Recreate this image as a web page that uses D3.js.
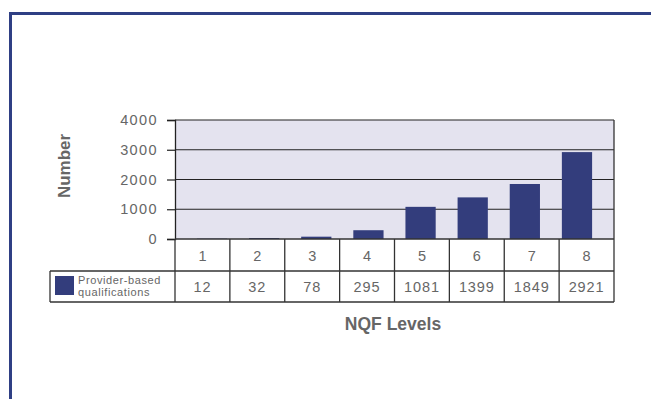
<!DOCTYPE html>
<meta charset="utf-8">
<head>
<style>
body { margin: 0; background: #fff; }
text { font-family: "Liberation Sans", Arial, sans-serif; fill: #666; }
</style>
</head>
<body>
<script src="https://cdn.jsdelivr.net/npm/d3@7"></script>
<div id="chart"></div>
<script>
// data
const levels = ["1", "2", "3", "4", "5", "6", "7", "8"];
const qualifications = [12, 32, 78, 295, 1081, 1399, 1849, 2921];
const yTicks = [0, 1000, 2000, 3000, 4000];
const seriesName = ["Provider-based", "qualifications"];

const width = 651, height = 399;
const svg = d3.select("#chart").append("svg")
    .attr("width", width)
    .attr("height", height);

// outer frame (runs off the right and bottom)
svg.append("path")
    .attr("d", "M10.5,400 L10.5,13.5 L652,13.5")
    .attr("fill", "none")
    .attr("stroke", "#2f3f84")
    .attr("stroke-width", 3);

const plotL = 175, plotR = 614, plotT = 120, plotB = 239;

const x = d3.scaleBand().domain(levels).range([plotL, plotR]).padding(0.42);
const cols = d3.scaleBand().domain(levels).range([plotL, plotR]);
const y = d3.scaleLinear().domain([0, 4000]).range([plotB, plotT]);

svg.append("rect")
    .attr("x", plotL).attr("y", plotT)
    .attr("width", plotR - plotL).attr("height", plotB - plotT)
    .attr("fill", "#e4e3ef");

// gridlines
svg.selectAll(".grid").data(yTicks.slice(1))
  .enter().append("line")
    .attr("x1", plotL).attr("x2", plotR)
    .attr("y1", d => y(d)).attr("y2", d => y(d))
    .attr("stroke", "#222").attr("stroke-width", 1.2);

svg.append("line")
    .attr("x1", plotR).attr("x2", plotR)
    .attr("y1", plotT).attr("y2", plotB)
    .attr("stroke", "#333").attr("stroke-width", 1.3);

// bars
svg.selectAll(".bar").data(qualifications)
  .enter().append("rect")
    .attr("x", (d, i) => x(levels[i]))
    .attr("y", d => y(d))
    .attr("width", x.bandwidth())
    .attr("height", d => y(0) - y(d))
    .attr("fill", "#333d7c");

// y axis
const yAxis = svg.append("g")
    .attr("transform", `translate(${plotL},0)`)
    .call(d3.axisLeft(y).tickValues(yTicks).tickFormat(d3.format("d"))
      .tickSize(8).tickPadding(9));
yAxis.select(".domain").attr("stroke", "#222").attr("stroke-width", 1.3);
yAxis.selectAll(".tick line").attr("stroke", "#222").attr("stroke-width", 1.2);
yAxis.selectAll(".tick text")
    .style("font-size", "14.5px")
    .style("letter-spacing", "1.4px")
    .style("font-family", "'Liberation Sans', Arial, sans-serif")
    .attr("fill", "#666");

svg.append("text")
    .attr("transform", "translate(70,166) rotate(-90)")
    .attr("text-anchor", "middle")
    .style("font-size", "17px")
    .style("font-weight", "bold")
    .text("Number");

// data table
const row1 = plotB, row2 = 271, row3 = 302, tableLeft = 50;
const tbl = svg.append("g").attr("fill", "none").attr("stroke", "#333").attr("stroke-width", 1.3);
tbl.append("line").attr("x1", plotL).attr("x2", plotR).attr("y1", row1).attr("y2", row1);
tbl.append("line").attr("x1", tableLeft).attr("x2", plotR).attr("y1", row2).attr("y2", row2);
tbl.append("line").attr("x1", tableLeft).attr("x2", plotR).attr("y1", row3).attr("y2", row3);
tbl.append("line").attr("x1", tableLeft).attr("x2", tableLeft).attr("y1", row2).attr("y2", row3);
tbl.selectAll(".vl").data(levels.concat(["end"]))
  .enter().append("line")
    .attr("x1", d => d === "end" ? plotR : cols(d))
    .attr("x2", d => d === "end" ? plotR : cols(d))
    .attr("y1", row1).attr("y2", row3);

svg.selectAll(".cat").data(levels)
  .enter().append("text")
    .attr("x", d => cols(d) + cols.bandwidth() / 2)
    .attr("y", (row1 + row2) / 2 + 5.5)
    .attr("text-anchor", "middle")
    .style("font-size", "14.5px")
    .text(d => d);

svg.selectAll(".val").data(qualifications)
  .enter().append("text")
    .attr("x", (d, i) => cols(levels[i]) + cols.bandwidth() / 2)
    .attr("y", (row2 + row3) / 2 + 5.5)
    .attr("text-anchor", "middle")
    .style("font-size", "14.5px")
    .style("letter-spacing", "0.9px")
    .text(d => d);

// legend cell
svg.append("rect")
    .attr("x", 55).attr("y", 276)
    .attr("width", 19).attr("height", 19)
    .attr("fill", "#333d7c");
svg.selectAll(".leg").data(seriesName)
  .enter().append("text")
    .attr("x", 78)
    .attr("y", (d, i) => 283.5 + i * 12)
    .style("font-size", "11px")
    .style("letter-spacing", "0.6px")
    .text(d => d);

svg.append("text")
    .attr("x", 393).attr("y", 330)
    .attr("text-anchor", "middle")
    .style("font-size", "17.5px")
    .style("font-weight", "bold")
    .text("NQF Levels");
</script>
</body>
